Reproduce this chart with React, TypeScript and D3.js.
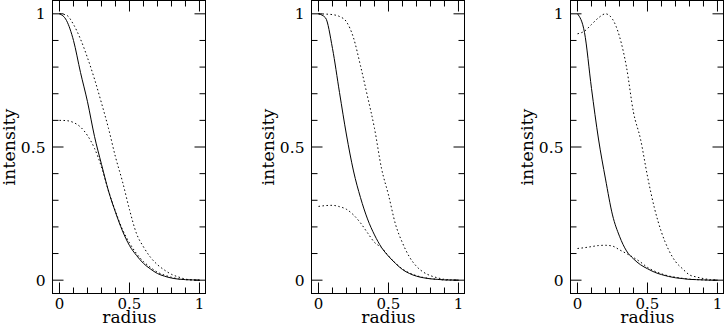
import React from 'react';
import * as d3 from 'd3';

// radius grid shared by every curve
const radius = [0, 0.05, 0.1, 0.15, 0.2, 0.25, 0.3, 0.35, 0.4, 0.45, 0.5, 0.55, 0.6, 0.65, 0.7, 0.75, 0.8, 0.85, 0.9, 0.95, 1];

// panel 1
const p1Solid = [1, 0.975, 0.9, 0.78, 0.67, 0.54, 0.435, 0.335, 0.255, 0.185, 0.13, 0.093, 0.063, 0.042, 0.025, 0.015, 0.008, 0.004, 0.002, 0.001, 0];
const p1Upper = [1, 0.995, 0.96, 0.905, 0.835, 0.755, 0.665, 0.57, 0.4625, 0.37, 0.265, 0.175, 0.125, 0.086, 0.058, 0.038, 0.022, 0.012, 0.004, 0.001, 0];
const p1Lower = [0.6, 0.599, 0.592, 0.575, 0.543, 0.495, 0.425, 0.335, 0.258, 0.19, 0.14, 0.1, 0.07, 0.048, 0.03, 0.019, 0.011, 0.005, 0.002, 0.001, 0];

// panel 2
const p2Solid = [1, 0.985, 0.87, 0.705, 0.545, 0.41, 0.31, 0.23, 0.17, 0.123, 0.09, 0.063, 0.04, 0.025, 0.015, 0.009, 0.005, 0.003, 0.001, 0.0005, 0];
const p2Upper = [1, 0.999, 0.997, 0.99, 0.97, 0.91, 0.805, 0.69, 0.57, 0.42, 0.32, 0.21, 0.14, 0.087, 0.052, 0.03, 0.017, 0.009, 0.003, 0.001, 0];
const p2Lower = [0.277, 0.28, 0.281, 0.276, 0.266, 0.245, 0.215, 0.178, 0.142, 0.122, 0.091, 0.064, 0.042, 0.027, 0.017, 0.01, 0.006, 0.003, 0.001, 0.0005, 0];

// panel 3
const p3Solid = [1, 0.93, 0.72, 0.53, 0.38, 0.245, 0.165, 0.11, 0.08, 0.058, 0.043, 0.03, 0.021, 0.014, 0.009, 0.006, 0.003, 0.002, 0.001, 0, 0];
const p3Upper = [0.925, 0.935, 0.96, 0.985, 1, 0.98, 0.915, 0.8, 0.63, 0.53, 0.39, 0.27, 0.18, 0.115, 0.07, 0.043, 0.02, 0.012, 0.006, 0.002, 0];
const p3Lower = [0.119, 0.122, 0.126, 0.13, 0.131, 0.128, 0.114, 0.1, 0.085, 0.068, 0.048, 0.034, 0.024, 0.016, 0.011, 0.007, 0.004, 0.002, 0.001, 0, 0];

const panels = [
  { solid: p1Solid, upper: p1Upper, lower: p1Lower },
  { solid: p2Solid, upper: p2Upper, lower: p2Lower },
  { solid: p3Solid, upper: p3Upper, lower: p3Lower },
];

const xTickLabels = ['0', '0.5', '1'];
const yTickLabels = ['0', '0.5', '1'];
const xLabel = 'radius';
const yLabel = 'intensity';

const panelOffsets = [0, 259, 518];
const font = '"DejaVu Serif", serif';

const x = d3.scaleLinear().domain([-0.05, 1.043]).range([52.5, 205.5]);
const y = d3.scaleLinear().domain([-0.05, 1.05]).range([293.5, 0.5]);

const ticks = d3.range(0, 11).map(i => i / 10);
const isMajor = (t: number) => Math.abs(t) < 1e-9 || Math.abs(t - 0.5) < 1e-9 || Math.abs(t - 1) < 1e-9;

const line = d3.line<number>()
  .x((_, i) => x(radius[i]))
  .y(d => y(d))
  .curve(d3.curveMonotoneX);

const Panel: React.FC<{ data: typeof panels[number]; dx: number }> = ({ data, dx }) => {
  const [x0, x1] = x.range();
  const [y0, y1] = y.range();
  return (
    <g transform={`translate(${dx},0)`}>
      <rect x={x0} y={y1} width={x1 - x0} height={y0 - y1} fill="none" stroke="#000" strokeWidth={1} />
      {ticks.map(t => {
        const len = isMajor(t) ? 11 : 6;
        return (
          <g key={t} stroke="#000" strokeWidth={1}>
            <line x1={x(t)} x2={x(t)} y1={y0} y2={y0 - len} />
            <line x1={x(t)} x2={x(t)} y1={y1} y2={y1 + len} />
            <line x1={x0} x2={x0 + len} y1={y(t)} y2={y(t)} />
            <line x1={x1} x2={x1 - len} y1={y(t)} y2={y(t)} />
          </g>
        );
      })}
      {xTickLabels.map(l => (
        <text key={l} x={x(+l)} y={308.5} textAnchor="middle" fontFamily={font} fontSize={15}>{l}</text>
      ))}
      {yTickLabels.map(l => (
        <text key={l} x={x0 - 7} y={y(+l)} dy="0.36em" textAnchor="end" fontFamily={font} fontSize={15.5}>{l}</text>
      ))}
      <text x={x(0.5)} y={323} textAnchor="middle" fontFamily={font} fontSize={17}>{xLabel}</text>
      <text transform={`translate(15,${y(0.5)}) rotate(-90)`} textAnchor="middle" fontFamily={font} fontSize={17.5}>{yLabel}</text>
      <path d={line(data.solid) || ''} fill="none" stroke="#000" strokeWidth={1} />
      <path d={line(data.upper) || ''} fill="none" stroke="#000" strokeWidth={1} strokeDasharray="1.5 2.5" />
      <path d={line(data.lower) || ''} fill="none" stroke="#000" strokeWidth={1} strokeDasharray="1.5 2.5" />
    </g>
  );
};

export default function App() {
  return (
    <svg width={724} height={327} style={{ position: 'absolute', left: 0, top: 0, background: '#fff' }}>
      {panels.map((p, i) => (
        <Panel key={i} data={p} dx={panelOffsets[i]} />
      ))}
    </svg>
  );
}
